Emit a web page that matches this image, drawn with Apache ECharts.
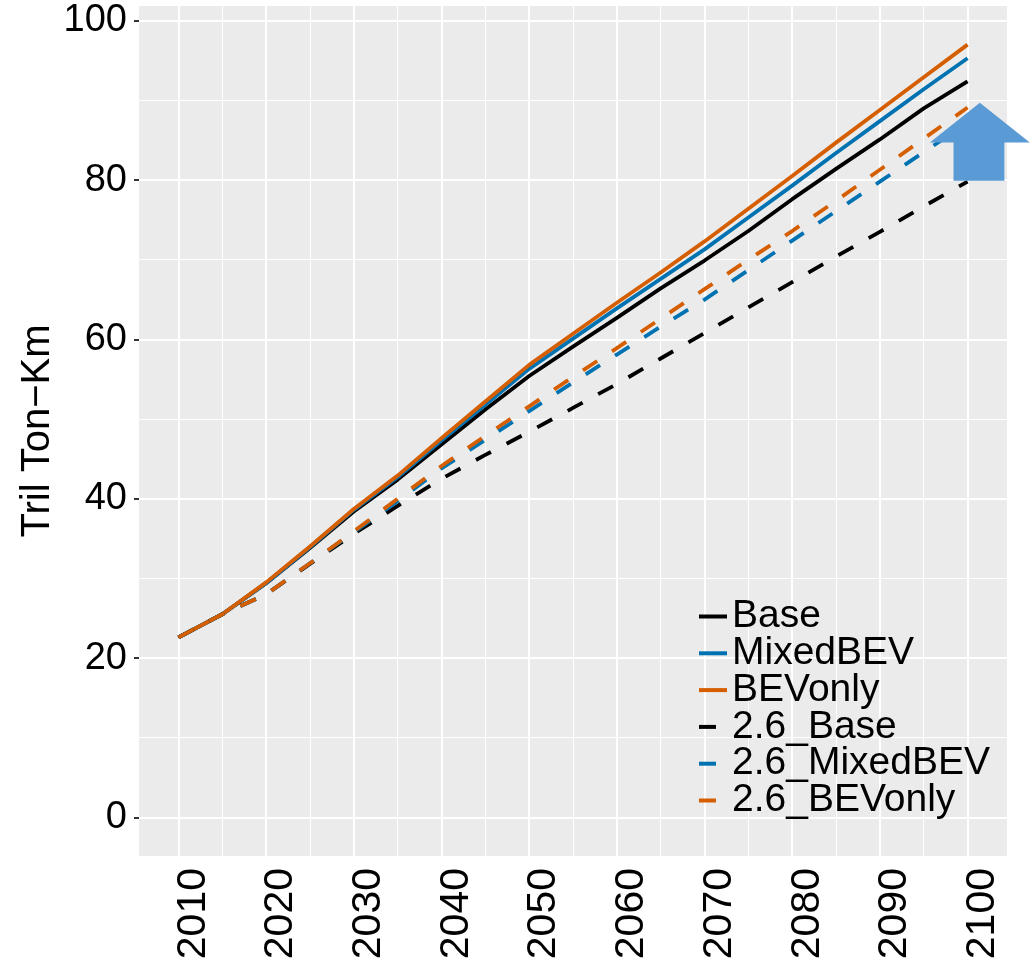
<!DOCTYPE html>
<html>
<head>
<meta charset="utf-8">
<script src="https://cdn.jsdelivr.net/npm/echarts@6/dist/echarts.min.js"></script>
<style>
html,body{margin:0;padding:0;background:#fff;}
#c{width:1034px;height:964px;}
</style>
</head>
<body>
<div id="c"></div>
<script>
var years = [2010,2015,2020,2025,2030,2035,2040,2045,2050,2055,2060,2065,2070,2075,2080,2085,2090,2095,2100];
var base       = [22.6,25.5,29.4,33.8,38.4,42.4,46.8,51.2,55.4,59.1,62.7,66.4,69.9,73.6,77.6,81.4,85.1,89.0,92.4];
var mixedBEV   = [22.6,25.5,29.4,33.9,38.6,42.7,47.3,51.8,56.3,60.1,63.9,67.6,71.3,75.3,79.3,83.4,87.4,91.4,95.3];
var bevOnly    = [22.6,25.5,29.5,34.0,38.7,42.9,47.6,52.2,56.8,60.7,64.6,68.4,72.3,76.4,80.5,84.7,88.8,92.9,97.0];
var base26     = [22.6,25.5,28.0,31.8,35.6,39.1,42.5,45.5,48.4,51.4,54.4,57.6,60.8,64.0,67.2,70.4,73.5,76.7,79.8];
var mixedBEV26 = [22.6,25.5,28.0,31.9,35.8,39.7,43.8,47.4,51.0,54.6,58.1,61.6,65.0,68.7,72.4,76.1,79.8,83.5,87.2];
var bevOnly26  = [22.6,25.5,28.0,31.9,35.9,40.0,44.1,47.9,51.6,55.3,58.9,62.6,66.3,70.0,73.6,77.4,81.3,85.2,89.1];

var seriesNames = ['Base','MixedBEV','BEVonly','2.6_Base','2.6_MixedBEV','2.6_BEVonly'];
var xTicks = [2010,2020,2030,2040,2050,2060,2070,2080,2090,2100];
var xMinor = [2015,2025,2035,2045,2055,2065,2075,2085,2095];
var yTicks = [0,20,40,60,80,100];
var yMinor = [10,30,50,70,90];
var yTitle = 'Tril Ton\u2212Km';
// annotation arrow (data coords): tip, head base, shaft
var arrowTip = [2101.4, 89.7];
var arrowHead = [2095.7, 2107.1, 84.7];
var arrowShaft = [2098.4, 2104.2, 79.9];

var FONT = '"Liberation Sans", Arial, Helvetica, sans-serif';
var colors = ['#000000','#0072B2','#D55E00','#000000','#0072B2','#D55E00'];
var dataSets = [base, mixedBEV, bevOnly, base26, mixedBEV26, bevOnly26];

function pairs(arr){ return years.map(function(y,i){ return [y, arr[i]]; }); }

var gridLines = [];
yMinor.forEach(function(v){ gridLines.push({yAxis:v, lineStyle:{color:'#ffffff', width:1, type:'solid'}}); });
xMinor.forEach(function(v){ gridLines.push({xAxis:v, lineStyle:{color:'#ffffff', width:1, type:'solid'}}); });
yTicks.forEach(function(v){ gridLines.push({yAxis:v, lineStyle:{color:'#ffffff', width:2, type:'solid'}}); });
xTicks.forEach(function(v){ gridLines.push({xAxis:v, lineStyle:{color:'#ffffff', width:2, type:'solid'}}); });

var series = [{
  type:'line', name:'__grid', data:[], silent:true, z:1,
  markLine:{ z:1, silent:true, symbol:['none','none'], label:{show:false}, animation:false, data:gridLines }
}];
seriesNames.forEach(function(n,i){
  var dashed = i >= 3;
  series.push({
    type:'line', name:n, data:pairs(dataSets[i]), symbol:'none', showSymbol:false,
    z: 3 + i, animation:false,
    lineStyle:{ color:colors[i], width:3.8, type: dashed ? [17,17.7] : 'solid', cap:'butt', join:'round' },
    itemStyle:{ color:colors[i] }
  });
});

var chart = echarts.init(document.getElementById('c'), null, {renderer:'canvas'});
chart.setOption({
  animation:false,
  backgroundColor:'#ffffff',
  grid:{ left:139, right:27, top:6, bottom:108, show:true, backgroundColor:'#EBEBEB', borderWidth:0,
         containLabel:false, outerBoundsMode:'none' },
  xAxis:{
    type:'value', min:2005.5, max:2104.5,
    axisLine:{show:false},
    axisTick:{show:true, length:5, lineStyle:{color:'#333333', width:2}, customValues:xTicks},
    axisLabel:{show:true, rotate:90, margin:12, fontSize:41, color:'#000', fontFamily:FONT, customValues:xTicks,
               verticalAlign:'top', lineHeight:30, formatter:function(v){ return String(v); }},
    splitLine:{show:false}
  },
  yAxis:{
    type:'value', min:-4.85, max:101.85,
    axisLine:{show:false},
    axisTick:{show:true, length:5, lineStyle:{color:'#333333', width:2}, customValues:yTicks},
    axisLabel:{show:true, margin:12, fontSize:38, color:'#000', fontFamily:FONT, customValues:yTicks,
               formatter:function(v){ return String(v); }},
    splitLine:{show:false}
  },
  legend:{
    data:seriesNames, orient:'vertical', left:697, top:597,
    itemWidth:28, itemHeight:1, itemGap:-2.2,
    itemStyle:{opacity:0},
    lineStyle:{width:4},
    textStyle:{fontSize:39, color:'#000', fontFamily:FONT, lineHeight:36.8},
    backgroundColor:'transparent', padding:0
  },
  series:series
});

function px(p){ return chart.convertToPixel({gridIndex:0}, p); }
var tip = px(arrowTip);
var hl = px([arrowHead[0], arrowHead[2]]);
var hr = px([arrowHead[1], arrowHead[2]]);
var sl = px([arrowShaft[0], arrowHead[2]]);
var sr = px([arrowShaft[1], arrowHead[2]]);
var bl = px([arrowShaft[0], arrowShaft[2]]);
var br = px([arrowShaft[1], arrowShaft[2]]);
chart.setOption({
  graphic:[{
    type:'polygon', z:100, silent:true,
    shape:{ points:[tip, hr, sr, br, bl, sl, hl] },
    style:{ fill:'#5B9BD5' }
  },{
    type:'text', z:100, silent:true,
    x:38, y:431, rotation:Math.PI/2,
    style:{ text:yTitle, fill:'#000', font:'40px ' + FONT, textAlign:'center', textVerticalAlign:'middle' }
  }]
});
</script>
</body>
</html>
